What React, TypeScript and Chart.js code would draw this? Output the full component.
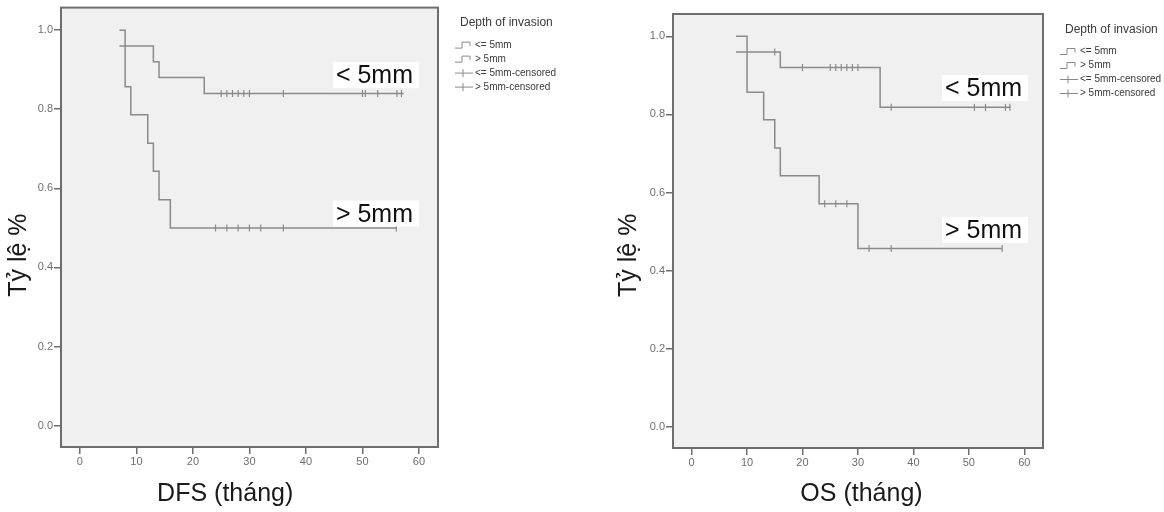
import React, { useEffect, useRef } from 'react';
import { Chart, registerables } from 'chart.js';

Chart.register(...registerables);

// ---------- axis ticks ----------
const X_TICKS = [0, 10, 20, 30, 40, 50, 60];
const Y_TICKS = [0, 0.2, 0.4, 0.6, 0.8, 1.0];
const X_MIN = -3.35;
const X_MAX = 63.37;
const Y_MIN = -0.054;
const Y_MAX = 1.057;

// ---------- DFS (left) ----------
const DFS_LE5_T = [7, 13, 14, 22, 57.3];
const DFS_LE5_S = [0.96, 0.92, 0.88, 0.84, 0.84];
const DFS_GT5_T = [7, 8, 9, 12, 13, 14, 16, 56];
const DFS_GT5_S = [1.0, 0.857, 0.786, 0.714, 0.643, 0.571, 0.5, 0.5];
const DFS_LE5_CENS_T = [25, 26, 27, 28, 29, 30, 36, 50, 50.5, 52.7, 56.1, 56.9];
const DFS_LE5_CENS_S = [0.84, 0.84, 0.84, 0.84, 0.84, 0.84, 0.84, 0.84, 0.84, 0.84, 0.84, 0.84];
const DFS_GT5_CENS_T = [24, 26, 28, 30, 32, 36, 56];
const DFS_GT5_CENS_S = [0.5, 0.5, 0.5, 0.5, 0.5, 0.5, 0.5];

// ---------- OS (right) ----------
const OS_LE5_T = [8, 16, 34, 57.5];
const OS_LE5_S = [0.96, 0.92, 0.818, 0.818];
const OS_GT5_T = [8, 10, 13, 15, 16, 23, 30, 56];
const OS_GT5_S = [1.0, 0.857, 0.786, 0.714, 0.643, 0.571, 0.457, 0.457];
const OS_LE5_CENS_T = [15, 20, 25, 26, 27, 28, 29, 30, 36, 51, 53, 56.6, 57.4];
const OS_LE5_CENS_S = [0.96, 0.92, 0.92, 0.92, 0.92, 0.92, 0.92, 0.92, 0.818, 0.818, 0.818, 0.818, 0.818];
const OS_GT5_CENS_T = [24, 26, 28, 32, 36, 56];
const OS_GT5_CENS_S = [0.571, 0.571, 0.571, 0.457, 0.457, 0.457];

// ---------- text ----------
const LEGEND_TITLE = 'Depth of invasion';
const LEGEND_ITEMS = ['<= 5mm', '> 5mm', '<= 5mm-censored', '> 5mm-censored'];
const Y_TITLE = 'Tỷ lệ %';
const DFS_X_TITLE = 'DFS (tháng)';
const OS_X_TITLE = 'OS (tháng)';
const GROUP_LABELS = ['< 5mm', '> 5mm'];
const DFS_LABEL_X = [45.3, 45.3];
const DFS_LABEL_Y = [0.866, 0.516];
const OS_LABEL_X = [45.7, 45.7];
const OS_LABEL_Y = [0.847, 0.484];

const NBSP = '\u00a0';
const CURVE = '#8a8a8a';
const SANS = '"Liberation Sans", Arial, sans-serif';
const NARROW = '"Liberation Sans Narrow", "Arial Narrow", "Liberation Sans", sans-serif';

const toPoints = (t: number[], s: number[]) => t.map((x, i) => ({ x, y: s[i] }));

type KMProps = {
  width: number;
  height: number;
  left: number;
  plotLeft: number;
  plotTop: number;
  plotRight: number;
  plotBottom: number;
  le5T: number[]; le5S: number[];
  gt5T: number[]; gt5S: number[];
  le5CT: number[]; le5CS: number[];
  gt5CT: number[]; gt5CS: number[];
  xTitle: string;
  yTitle: string;
  yTitlePad: number;
  labelX: number[];
  labelY: number[];
};

function KMChart(p: KMProps) {
  const ref = useRef<HTMLCanvasElement | null>(null);

  useEffect(() => {
    if (!ref.current) return;

    const boxPlugin = {
      id: 'kmBox',
      beforeDatasetsDraw(chart: any) {
        const { ctx, chartArea: a } = chart;
        ctx.save();
        ctx.fillStyle = '#f0f0f0';
        ctx.fillRect(a.left, a.top, a.right - a.left, a.bottom - a.top);
        ctx.restore();
      },
      afterDatasetsDraw(chart: any) {
        const { ctx, chartArea: a } = chart;
        ctx.save();
        ctx.strokeStyle = '#6e6e6e';
        ctx.lineWidth = 2;
        ctx.strokeRect(a.left, a.top, a.right - a.left, a.bottom - a.top);
        ctx.restore();
      },
      afterDraw(chart: any) {
        const { ctx, chartArea: a, scales } = chart;
        ctx.save();
        // group labels with white boxes
        ctx.font = `25px ${SANS}`;
        ctx.textBaseline = 'alphabetic';
        ctx.textAlign = 'left';
        GROUP_LABELS.forEach((txt, i) => {
          const x = scales.x.getPixelForValue(p.labelX[i]);
          const y = scales.y.getPixelForValue(p.labelY[i]);
          const w = ctx.measureText(txt).width;
          ctx.fillStyle = '#ffffff';
          ctx.fillRect(x - 3, y - 21, w + 9, 26);
          ctx.fillStyle = '#111111';
          ctx.fillText(txt, x, y);
        });
        // legend
        const lx = a.right + 17;
        ctx.fillStyle = '#3a3a3a';
        ctx.font = `12px ${SANS}`;
        ctx.textBaseline = 'middle';
        ctx.fillText(LEGEND_TITLE, a.right + 22, a.top + 15.5);
        ctx.font = `10px ${SANS}`;
        LEGEND_ITEMS.forEach((txt, i) => {
          const y = a.top + 37.5 + i * 14;
          ctx.strokeStyle = CURVE;
          ctx.lineWidth = 1;
          ctx.beginPath();
          if (i < 2) {
            ctx.moveTo(lx, y + 3);
            ctx.lineTo(lx + 7, y + 3);
            ctx.lineTo(lx + 7, y - 3);
            ctx.lineTo(lx + 15, y - 3);
            ctx.lineTo(lx + 15, y + 1);
          } else {
            ctx.moveTo(lx, y);
            ctx.lineTo(lx + 18, y);
            ctx.moveTo(lx + 8, y - 4);
            ctx.lineTo(lx + 8, y + 4);
          }
          ctx.stroke();
          ctx.fillStyle = '#3a3a3a';
          ctx.fillText(txt, lx + 20, y);
        });
        ctx.restore();
      },
    };

    const tickFont = { family: NARROW, size: 11 };
    const titleFont = { family: SANS, size: 25 };

    const chart = new Chart(ref.current, {
      type: 'line',
      data: {
        datasets: [
          {
            label: LEGEND_ITEMS[0],
            data: toPoints(p.le5T, p.le5S),
            stepped: 'before',
            borderColor: CURVE,
            borderWidth: 1.5,
            pointRadius: 0,
            fill: false,
          },
          {
            label: LEGEND_ITEMS[1],
            data: toPoints(p.gt5T, p.gt5S),
            stepped: 'before',
            borderColor: CURVE,
            borderWidth: 1.5,
            pointRadius: 0,
            fill: false,
          },
          {
            label: LEGEND_ITEMS[2],
            data: toPoints(p.le5CT, p.le5CS),
            showLine: false,
            pointStyle: 'line',
            pointRotation: 90,
            pointRadius: 3.5,
            pointBorderWidth: 1.2,
            pointBorderColor: CURVE,
            borderColor: CURVE,
          },
          {
            label: LEGEND_ITEMS[3],
            data: toPoints(p.gt5CT, p.gt5CS),
            showLine: false,
            pointStyle: 'line',
            pointRotation: 90,
            pointRadius: 3.5,
            pointBorderWidth: 1.2,
            pointBorderColor: CURVE,
            borderColor: CURVE,
          },
        ],
      } as any,
      options: {
        responsive: false,
        maintainAspectRatio: false,
        animation: false,
        events: [],
        layout: {
          padding: {
            left: 0,
            top: p.plotTop,
            right: p.width - p.plotRight,
            bottom: 0,
          },
        },
        plugins: {
          legend: { display: false },
          tooltip: { enabled: false },
        },
        scales: {
          x: {
            type: 'linear',
            min: X_MIN,
            max: X_MAX,
            afterBuildTicks: (s: any) => {
              s.ticks = X_TICKS.map((v) => ({ value: v }));
            },
            afterFit: (s: any) => {
              s.height = p.height - p.plotBottom;
            },
            ticks: {
              autoSkip: false,
              maxRotation: 0,
              padding: 1,
              font: tickFont,
              color: '#6e6e6e',
              callback: (v: any) => String(v),
            },
            grid: {
              drawOnChartArea: false,
              drawTicks: true,
              tickLength: 7,
              color: '#6e6e6e',
              lineWidth: 1.5,
            },
            border: { display: false },
            title: {
              display: true,
              text: p.xTitle,
              font: titleFont,
              color: '#1a1a1a',
              padding: { top: 0, bottom: 3 },
            },
          },
          y: {
            type: 'linear',
            min: Y_MIN,
            max: Y_MAX,
            afterBuildTicks: (s: any) => {
              s.ticks = Y_TICKS.map((v) => ({ value: v }));
            },
            afterFit: (s: any) => {
              s.width = p.plotLeft;
            },
            ticks: {
              autoSkip: false,
              padding: 1,
              font: tickFont,
              color: '#6e6e6e',
              callback: (v: any) => Number(v).toFixed(1),
            },
            grid: {
              drawOnChartArea: false,
              drawTicks: true,
              tickLength: 7,
              color: '#6e6e6e',
              lineWidth: 1.5,
            },
            border: { display: false },
            title: {
              display: true,
              text: p.yTitle,
              font: titleFont,
              color: '#1a1a1a',
              padding: { top: p.yTitlePad, bottom: 0 },
            },
          },
        },
      } as any,
      plugins: [boxPlugin],
    });

    return () => chart.destroy();
  }, []);

  return (
    <canvas
      ref={ref}
      width={p.width}
      height={p.height}
      style={{ position: 'absolute', left: p.left, top: 0, width: p.width, height: p.height }}
    />
  );
}

export default function App() {
  return (
    <div
      style={{
        position: 'fixed',
        left: 0,
        top: 0,
        width: 1164,
        height: 512,
        background: '#ffffff',
        overflow: 'hidden',
      }}
    >
      <KMChart
        width={580}
        height={512}
        left={0}
        plotLeft={61}
        plotTop={7}
        plotRight={438}
        plotBottom={447}
        le5T={DFS_LE5_T} le5S={DFS_LE5_S}
        gt5T={DFS_GT5_T} gt5S={DFS_GT5_S}
        le5CT={DFS_LE5_CENS_T} le5CS={DFS_LE5_CENS_S}
        gt5CT={DFS_GT5_CENS_T} gt5CS={DFS_GT5_CENS_S}
        xTitle={DFS_X_TITLE + NBSP.repeat(7)}
        yTitle={Y_TITLE + NBSP.repeat(8)}
        yTitlePad={4}
        labelX={DFS_LABEL_X}
        labelY={DFS_LABEL_Y}
      />
      <KMChart
        width={574}
        height={512}
        left={590}
        plotLeft={83}
        plotTop={14}
        plotRight={453}
        plotBottom={448}
        le5T={OS_LE5_T} le5S={OS_LE5_S}
        gt5T={OS_GT5_T} gt5S={OS_GT5_S}
        le5CT={OS_LE5_CENS_T} le5CS={OS_LE5_CENS_S}
        gt5CT={OS_GT5_CENS_T} gt5CS={OS_GT5_CENS_S}
        xTitle={NBSP + OS_X_TITLE}
        yTitle={Y_TITLE + NBSP.repeat(7)}
        yTitlePad={24}
        labelX={OS_LABEL_X}
        labelY={OS_LABEL_Y}
      />
    </div>
  );
}
